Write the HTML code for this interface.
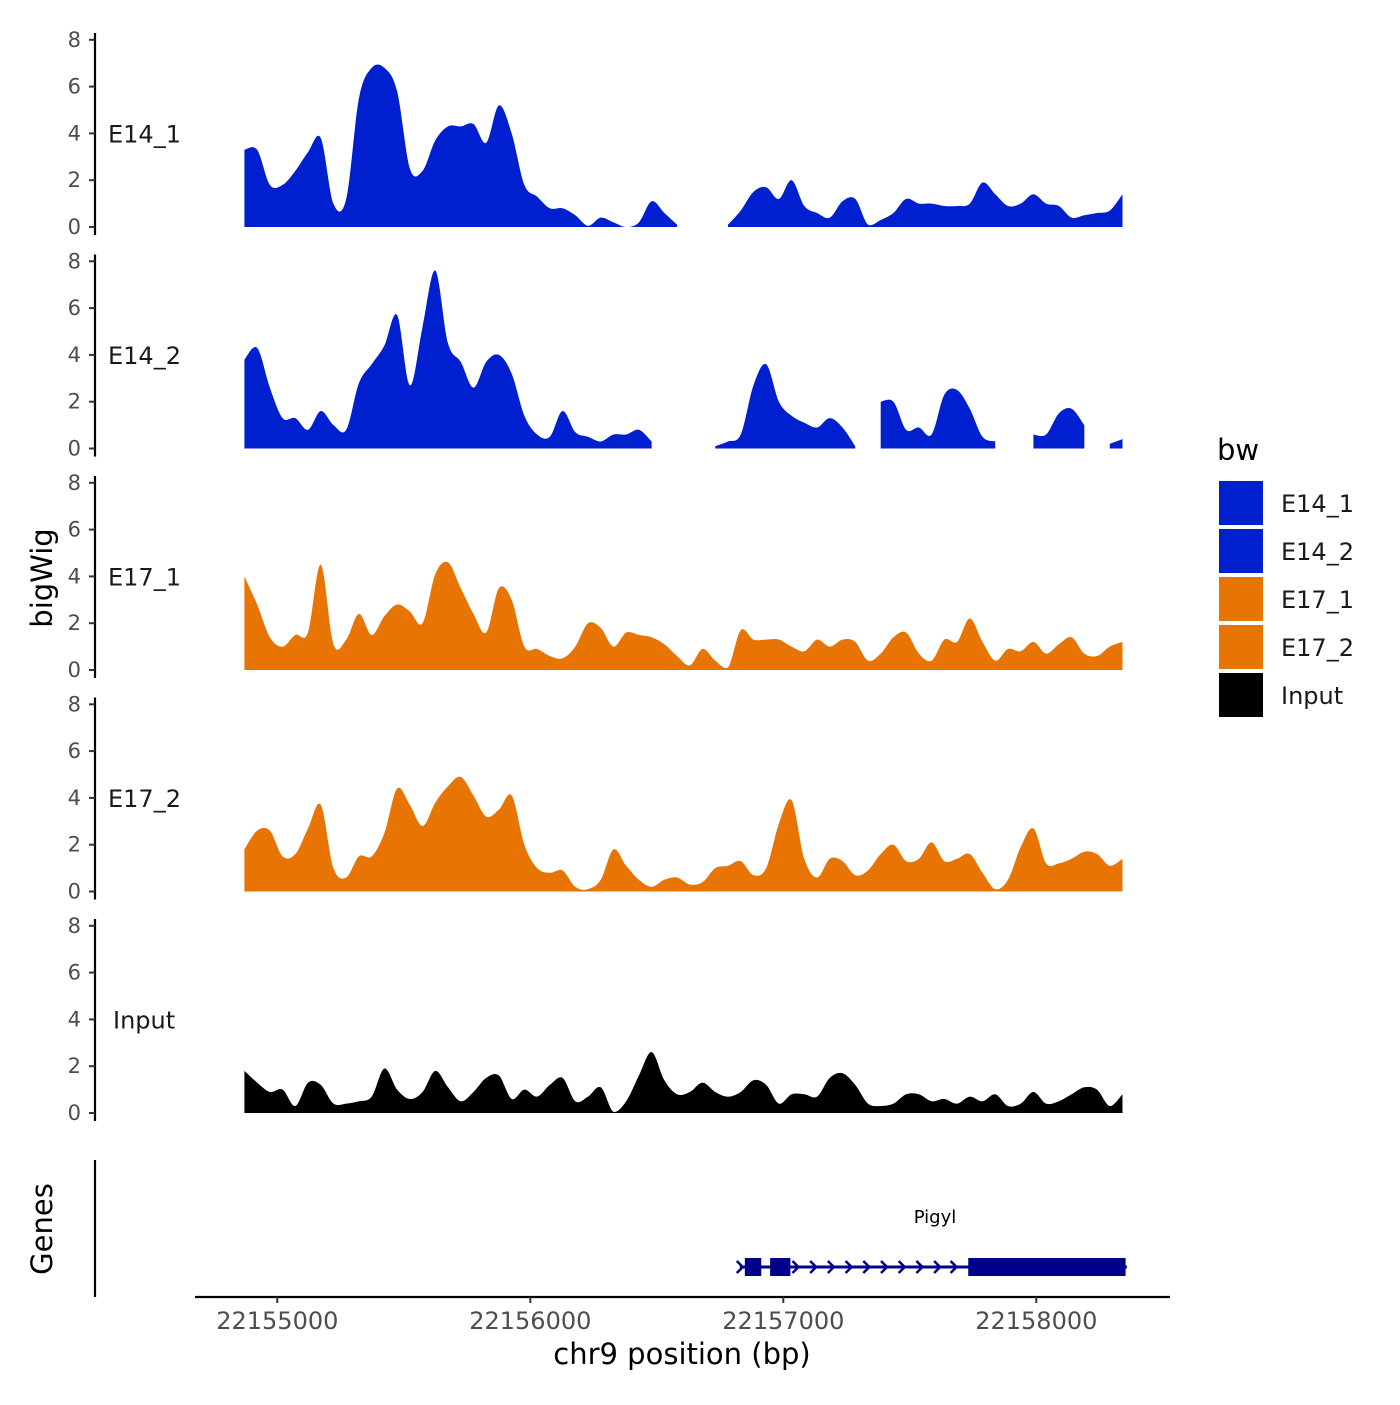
<!DOCTYPE html>
<html><head><meta charset="utf-8"><style>
body{margin:0;background:#fff}
svg text{font-family:"DejaVu Sans","Liberation Sans",sans-serif}
</style></head><body>
<svg id="chart" width="1400" height="1400" viewBox="0 0 1400 1400" xmlns="http://www.w3.org/2000/svg"></svg>
<script>
// ---- data ----
const startBp = 22154870;
const stepBp = 50.3;
const trackNames = ["E14_1","E14_2","E17_1","E17_2","Input"];
const trackColors = ["#0020d0","#0020d0","#e87503","#e87503","#000000"];
const yTicks = [0,2,4,6,8];
const xTicks = [22155000,22156000,22157000,22158000];
const e14_1 = [3.3,3.3,1.8,1.8,2.4,3.2,3.8,1.0,1.2,5.5,6.8,6.8,5.8,2.5,2.4,3.7,4.3,4.3,4.4,3.6,5.2,4.0,1.8,1.3,0.8,0.8,0.5,0.05,0.4,0.2,0,0.2,1.1,0.6,0.1,null,null,null,0.1,0.7,1.5,1.7,1.2,2.0,0.9,0.6,0.4,1.1,1.2,0.1,0.3,0.6,1.2,1.0,1.0,0.9,0.9,1.0,1.9,1.4,0.9,1.0,1.4,1.0,0.9,0.4,0.5,0.6,0.7,1.4];
const e14_2 = [3.8,4.3,2.6,1.3,1.3,0.8,1.6,1.0,0.8,2.8,3.6,4.4,5.7,2.7,5.2,7.6,4.5,3.7,2.6,3.7,4.0,3.2,1.4,0.6,0.5,1.6,0.7,0.5,0.3,0.6,0.6,0.8,0.3,null,null,null,null,0.1,0.3,0.6,2.7,3.6,2.0,1.4,1.1,0.9,1.3,0.9,0.1,null,2.0,2.0,0.8,0.9,0.6,2.3,2.5,1.7,0.5,0.3,null,null,0.6,0.6,1.5,1.7,1.0,null,0.2,0.4];
const e17_1 = [4.0,2.8,1.4,1.0,1.5,1.6,4.5,1.1,1.3,2.4,1.5,2.3,2.8,2.5,2.0,4.1,4.6,3.5,2.4,1.6,3.5,3.0,1.0,0.9,0.6,0.5,1.0,2.0,1.8,1.0,1.6,1.5,1.4,1.1,0.6,0.2,0.9,0.4,0.1,1.7,1.3,1.3,1.3,1.0,0.8,1.3,1.0,1.3,1.2,0.4,0.7,1.4,1.6,0.7,0.4,1.3,1.2,2.2,1.2,0.4,0.9,0.8,1.2,0.7,1.1,1.4,0.7,0.6,1.0,1.2];
const e17_2 = [1.8,2.6,2.6,1.5,1.6,2.7,3.7,1.0,0.6,1.5,1.5,2.5,4.4,3.7,2.8,3.8,4.5,4.9,4.1,3.2,3.5,4.1,2.0,1.0,0.8,0.9,0.2,0.1,0.5,1.8,1.1,0.5,0.2,0.5,0.6,0.3,0.4,1.0,1.1,1.3,0.7,1.0,2.9,3.9,1.4,0.6,1.4,1.3,0.7,0.9,1.6,2.0,1.3,1.4,2.1,1.3,1.4,1.6,0.8,0.1,0.5,1.9,2.7,1.2,1.2,1.4,1.7,1.6,1.1,1.4];
const input = [1.8,1.3,0.9,1.0,0.3,1.3,1.2,0.4,0.4,0.5,0.7,1.9,1.0,0.6,0.9,1.8,1.1,0.5,0.9,1.5,1.6,0.6,1.0,0.7,1.2,1.5,0.5,0.7,1.1,0.05,0.5,1.6,2.6,1.4,0.8,0.9,1.3,0.9,0.7,0.9,1.4,1.2,0.4,0.8,0.8,0.7,1.5,1.7,1.2,0.4,0.3,0.4,0.8,0.8,0.5,0.6,0.4,0.7,0.5,0.8,0.3,0.4,0.9,0.4,0.5,0.8,1.1,1.0,0.3,0.8];
const geneName = "Pigyl";
const geneStart = 22156828, geneEnd = 22158358;
const exonStarts = [22156848, 22156948, 22157731];
const exonEnds = [22156913, 22157028, 22158353];
const chevronBp = [22156828,22157048,22157118,22157188,22157258,22157328,22157398,22157468,22157538,22157608,22157673];

const seriesList = [e14_1,e14_2,e17_1,e17_2,input];
// ---- scales ----
const NS="http://www.w3.org/2000/svg";
const svg=document.getElementById('chart');
const xScale = bp => 277.3 + (bp-22155000)*0.253;
const panelBase = i => 227 + i*221.5;
const yScale = (v,i) => panelBase(i) - v*23.4;
function mk(tag,attrs,parent){const e=document.createElementNS(NS,tag);for(const k in attrs)e.setAttribute(k,attrs[k]);(parent||svg).appendChild(e);return e;}

function segPath(pts,i){
  const b=panelBase(i);
  let d=`M${pts[0][0]},${b} L${pts[0][0]},${pts[0][1]}`;
  for(let k=0;k<pts.length-1;k++){
    const p0=pts[Math.max(0,k-1)],p1=pts[k],p2=pts[k+1],p3=pts[Math.min(pts.length-1,k+2)];
    const t=0.5/3;
    let c1y=p1[1]+(p2[1]-p0[1])*t, c2y=p2[1]-(p3[1]-p1[1])*t;
    c1y=Math.min(c1y,b);c2y=Math.min(c2y,b);
    d+=` C${p1[0]+(p2[0]-p0[0])*t},${c1y} ${p2[0]-(p3[0]-p1[0])*t},${c2y} ${p2[0]},${p2[1]}`;
  }
  d+=` L${pts[pts.length-1][0]},${b} Z`;
  return d;
}

seriesList.forEach((vals,i)=>{
  const g=mk('g',{});
  
  
  const top=panelBase(i)-194, bot=panelBase(i)+8;
  const ax=mk('line',{x1:95,y1:top,x2:95,y2:bot,stroke:'#000','stroke-width':2.2},g);
  
  
  yTicks.forEach(t=>{
    const y=yScale(t,i);
    const tk=mk('line',{x1:89,y1:y,x2:95,y2:y,stroke:'#333','stroke-width':2},g);
    
    
    const tl=mk('text',{x:81,y:y+7,'text-anchor':'end','font-size':21,fill:'#4d4d4d'},g);
    tl.textContent=t;
    
    
  });
  let seg=[];
  const segs=[];
  vals.forEach((v,k)=>{
    if(v===null){if(seg.length)segs.push(seg);seg=[];}
    else seg.push([xScale(startBp+k*stepBp),yScale(v,i)]);
  });
  if(seg.length)segs.push(seg);
  segs.forEach(s=>{
    if(s.length<2)return;
    const p=mk('path',{d:segPath(s,i),fill:trackColors[i]},g);
    
    
  });
  const lab=mk('text',{x:i===4?113:108,y:yScale(4,i)+9,'font-size':24,fill:'#1a1a1a'},g);
  lab.textContent=trackNames[i];
  
  
});

const yt=mk('text',{x:0,y:0,'font-size':29,fill:'#000','text-anchor':'middle',transform:'translate(52,578) rotate(-90)'});
yt.textContent='bigWig';



const ga=mk('line',{x1:95,y1:1160,x2:95,y2:1297,stroke:'#000','stroke-width':2.2});


const gt=mk('text',{x:0,y:0,'font-size':29,fill:'#000','text-anchor':'middle',transform:'translate(52,1229) rotate(-90)'});
gt.textContent='Genes';


const gene=mk('g',{});


const gl=mk('line',{x1:xScale(geneStart),y1:1267,x2:xScale(geneEnd),y2:1267,stroke:'#00008b','stroke-width':3},gene);


exonStarts.forEach((s,k)=>{
  const r=mk('rect',{x:xScale(s),y:1258,width:xScale(exonEnds[k])-xScale(s),height:18,fill:'#00008b'},gene);
  
  
});
chevronBp.forEach(b=>{
  const x=xScale(b);
  const c=mk('path',{d:`M${x-3},${1261} L${x+3},${1267} L${x-3},${1273}`,fill:'none',stroke:'#00008b','stroke-width':2.5},gene);
  
  
});
const gn=mk('text',{x:935,y:1223,'font-size':18,'text-anchor':'middle',fill:'#000'});
gn.textContent=geneName;



const xa=mk('line',{x1:195,y1:1297,x2:1170,y2:1297,stroke:'#000','stroke-width':2.2});


xTicks.forEach(t=>{
  const x=xScale(t);
  const tk=mk('line',{x1:x,y1:1297,x2:x,y2:1303,stroke:'#333','stroke-width':2});
  
  
  const tl=mk('text',{x:x,y:1329,'text-anchor':'middle','font-size':24,fill:'#4d4d4d'});
  tl.textContent=t;
  
  
});
const xt=mk('text',{x:682,y:1364,'text-anchor':'middle','font-size':29,fill:'#000'});
xt.textContent='chr9 position (bp)';



const lg=mk('g',{});


const ltitle=mk('text',{x:1217,y:460,'font-size':29,fill:'#000'},lg);
ltitle.textContent='bw';


trackNames.forEach((n,k)=>{
  const y=481+k*48;
  const r=mk('rect',{x:1219,y:y,width:44,height:44,fill:trackColors[k]},lg);
  
  
  const t=mk('text',{x:1281,y:y+31,'font-size':24,fill:'#1a1a1a'},lg);
  t.textContent=n;
  
  
});
</script>
</body></html>
